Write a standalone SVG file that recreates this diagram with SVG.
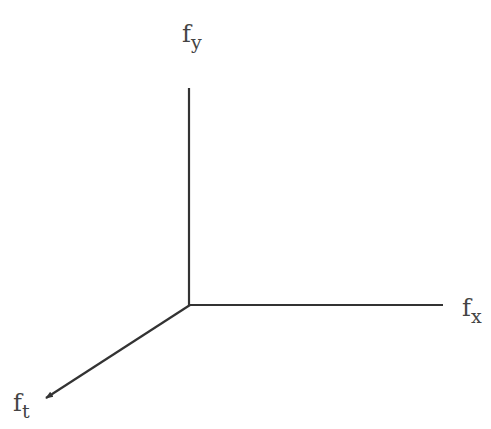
<svg xmlns="http://www.w3.org/2000/svg" width="491" height="429" viewBox="0 0 491 429">
<style>
.ax{stroke:#333;stroke-width:2.2;fill:none;stroke-linecap:butt}
.t{font-family:"DejaVu Serif","Liberation Serif",serif;fill:#444;font-size:24px}
.s{font-size:19px}
</style>
<defs>
<marker id="ah" viewBox="0 0 10 10" refX="9" refY="5" markerWidth="3.5" markerHeight="3.5" orient="auto" markerUnits="strokeWidth">
<path d="M0,1 L10,5 L0,9 Z" fill="#333"/>
</marker>
</defs>
<rect width="491" height="429" fill="#fff"/>
<g id="connectors">
<line class="ax" x1="189" y1="88" x2="189" y2="306"/>
<line class="ax" x1="188" y1="305" x2="443" y2="305"/>
<line class="ax" x1="190" y1="305" x2="46" y2="398" marker-end="url(#ah)"/>
</g>
<g id="fy"><text class="t" x="182" y="42">f<tspan class="s" dy="7">y</tspan></text></g>
<g id="fx"><text class="t" x="462" y="316">f<tspan class="s" dy="7">x</tspan></text></g>
<g id="ft"><text class="t" x="13" y="411">f<tspan class="s" dy="7">t</tspan></text></g>
</svg>
